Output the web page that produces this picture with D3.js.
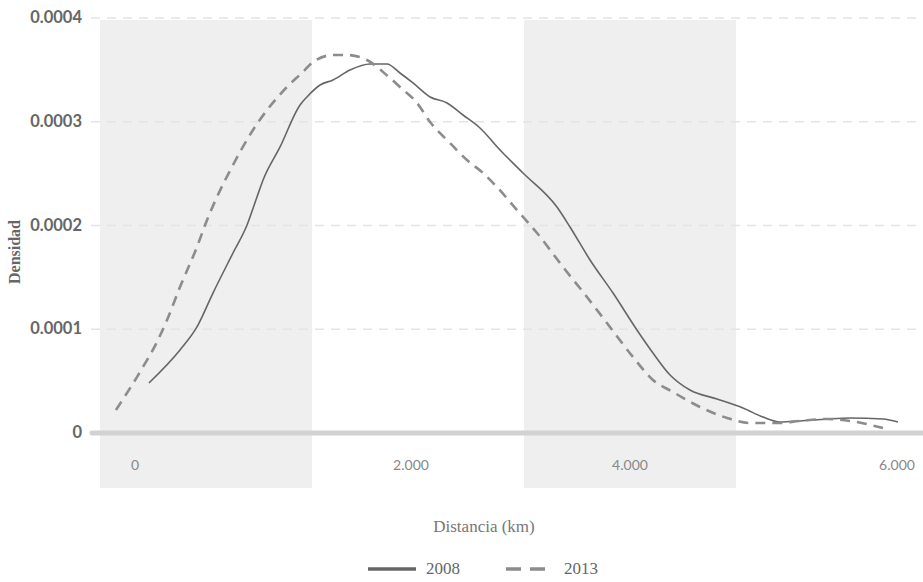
<!DOCTYPE html>
<html>
<head>
<meta charset="utf-8">
<script src="https://cdn.jsdelivr.net/npm/d3@7"></script>
<style>
  body { margin: 0; background: #fff; }
  svg { display: block; }
</style>
</head>
<body>
<svg id="chart" width="923" height="582"></svg>
<script>
// Tick values for each axis
const xTicks = [0, 2000, 4000, 6000];
const yTicks = [0, 0.0001, 0.0002, 0.0003, 0.0004];

// Shaded bands (distance ranges)
const bands = [[-254, 1283], [3032, 4794]];

// Density curves: distance (km) and density
const dist2008 = [101, 326, 449, 565, 710, 812, 884, 928, 1051, 1196, 1246, 1341, 1435, 1558, 1703, 1826, 1920, 2018, 2174, 2329, 2475, 2630, 2813, 3023, 3333, 3452, 3635, 3845, 4052, 4172, 4300, 4449, 4652, 4846, 4996, 5124, 5273, 5476, 5648, 5895, 6007];
const dens2008 = [4.82e-5, 8.0e-5, 1.022e-4, 1.349e-4, 1.735e-4, 2.005e-4, 2.275e-4, 2.439e-4, 2.757e-4, 3.162e-4, 3.239e-4, 3.354e-4, 3.403e-4, 3.499e-4, 3.557e-4, 3.557e-4, 3.470e-4, 3.374e-4, 3.239e-4, 3.181e-4, 3.065e-4, 2.940e-4, 2.728e-4, 2.506e-4, 2.178e-4, 1.986e-4, 1.668e-4, 1.349e-4, 9.93e-5, 7.71e-5, 5.59e-5, 4.14e-5, 3.28e-5, 2.41e-5, 1.54e-5, 1.06e-5, 1.16e-5, 1.35e-5, 1.45e-5, 1.35e-5, 1.06e-5];

const dist2013 = [-138, 36, 159, 232, 326, 449, 522, 594, 710, 855, 957, 1101, 1217, 1290, 1435, 1536, 1681, 1797, 1920, 2055, 2174, 2356, 2511, 2658, 2785, 2968, 3151, 3388, 3607, 3817, 4022, 4172, 4322, 4524, 4727, 4899, 5101, 5273, 5476, 5648, 5895];
const dens2013 = [2.22e-5, 5.88e-5, 8.77e-5, 1.089e-4, 1.407e-4, 1.793e-4, 2.053e-4, 2.275e-4, 2.583e-4, 2.921e-4, 3.113e-4, 3.335e-4, 3.480e-4, 3.576e-4, 3.643e-4, 3.643e-4, 3.595e-4, 3.480e-4, 3.335e-4, 3.181e-4, 2.998e-4, 2.795e-4, 2.631e-4, 2.506e-4, 2.371e-4, 2.149e-4, 1.928e-4, 1.600e-4, 1.311e-4, 1.022e-4, 7.33e-5, 5.11e-5, 3.95e-5, 2.51e-5, 1.45e-5, 9.6e-6, 9.6e-6, 1.16e-5, 1.35e-5, 1.16e-5, 4.8e-6];

const series = [
    { name: "2008", dist: dist2008, dens: dens2008, color: "#666", width: 1.6, dash: null, legendDash: null },
    { name: "2013", dist: dist2013, dens: dens2013, color: "#8c8c8c", width: 2.6, dash: "10,7", legendDash: "15,9" }
];

const svg = d3.select("#chart");
const serif = "'Liberation Serif', 'DejaVu Serif', serif";
const sans = "Lato, 'Open Sans', sans-serif";

// Scales (x ticks are not evenly spread in the source, so piecewise)
const x = d3.scaleLinear()
    .domain(xTicks)
    .range([135, 411, 630, 897]);
const y = d3.scaleLinear()
    .domain([0, 0.0004])
    .range([433, 18]);

// Background bands
svg.append("g")
    .selectAll("rect")
    .data(bands)
    .enter()
    .append("rect")
    .attr("x", d => x(d[0]))
    .attr("width", d => x(d[1]) - x(d[0]))
    .attr("y", 20)
    .attr("height", 468)
    .attr("fill", "#efefef");

// Horizontal grid lines
svg.append("g")
    .selectAll("line")
    .data(yTicks.filter(d => d > 0))
    .enter()
    .append("line")
    .attr("x1", 91)
    .attr("x2", 923)
    .attr("y1", d => y(d))
    .attr("y2", d => y(d))
    .attr("stroke", "#e4e4e4")
    .attr("stroke-width", 1.3)
    .attr("stroke-dasharray", "9,7");

// Zero line
svg.append("line")
    .attr("x1", 92)
    .attr("x2", 930)
    .attr("y1", y(0))
    .attr("y2", y(0))
    .attr("stroke", "#d2d2d2")
    .attr("stroke-width", 5)
    .attr("stroke-linecap", "round");

// Y axis labels
const fmtY = d => d === 0 ? "0" : d3.format(".4f")(d);
svg.append("g")
    .selectAll("text")
    .data(yTicks)
    .enter()
    .append("text")
    .attr("x", 82)
    .attr("y", d => y(d) + 5)
    .attr("text-anchor", "end")
    .attr("font-family", sans)
    .attr("font-weight", "bold")
    .attr("font-size", 16.5)
    .attr("fill", "#666")
    .text(fmtY);

// X axis labels
const fmtX = d => d3.format(",")(d).replace(/,/g, ".");
svg.append("g")
    .selectAll("text")
    .data(xTicks)
    .enter()
    .append("text")
    .attr("x", d => x(d))
    .attr("y", 470)
    .attr("text-anchor", "middle")
    .attr("font-family", sans)
    .attr("font-size", 14)
    .attr("fill", "#888")
    .text(fmtX);

// Axis titles
svg.append("text")
    .attr("transform", "translate(20,252) rotate(-90)")
    .attr("text-anchor", "middle")
    .attr("font-family", serif)
    .attr("font-weight", "bold")
    .attr("font-size", 16)
    .attr("fill", "#666")
    .text("Densidad");

svg.append("text")
    .attr("x", 484)
    .attr("y", 532)
    .attr("text-anchor", "middle")
    .attr("font-family", serif)
    .attr("font-size", 17)
    .attr("fill", "#777")
    .text("Distancia (km)");

// Curves
const line = d3.line()
    .x(d => x(d[0]))
    .y(d => y(d[1]))
    .curve(d3.curveMonotoneX);

series.forEach(s => {
    svg.append("path")
        .datum(s.dist.map((v, i) => [v, s.dens[i]]))
        .attr("d", line)
        .attr("fill", "none")
        .attr("stroke", s.color)
        .attr("stroke-width", s.width)
        .attr("stroke-dasharray", s.dash);
});

// Legend
const legend = svg.append("g");
const legendX = [368, 506];
series.forEach((s, i) => {
    const g = legend.append("g").attr("transform", `translate(${legendX[i]},569)`);
    g.append("line")
        .attr("x1", 0)
        .attr("x2", 48)
        .attr("stroke", s.color)
        .attr("stroke-width", 3.5)
        .attr("stroke-dasharray", s.legendDash);
    g.append("text")
        .attr("x", 58)
        .attr("y", 5)
        .attr("font-family", serif)
        .attr("font-size", 17)
        .attr("fill", "#666")
        .text(s.name);
});
</script>
</body>
</html>
